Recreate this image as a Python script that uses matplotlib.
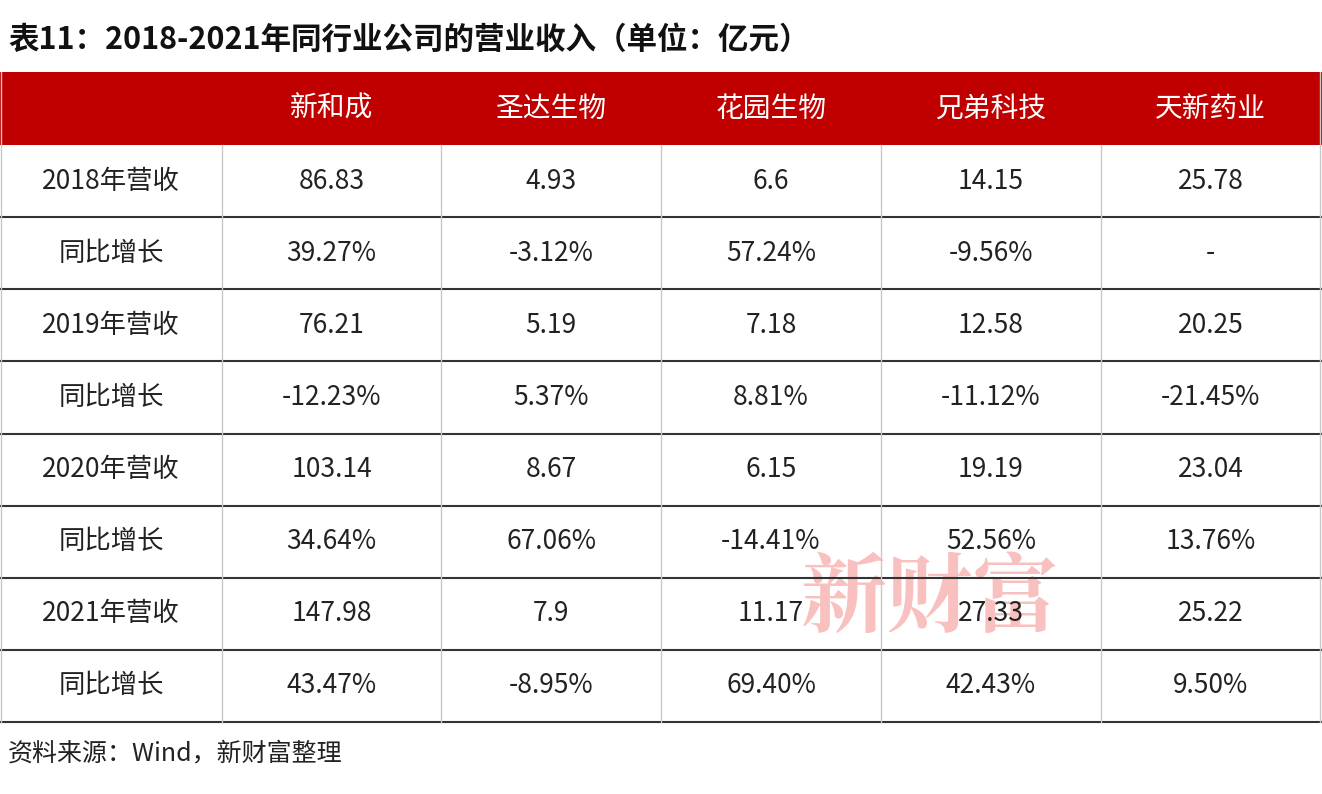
import matplotlib.pyplot as plt
from matplotlib.patches import Rectangle

plt.rcParams['font.family'] = ['Noto Sans CJK SC', 'DejaVu Sans']

title = '表11：2018-2021年同行业公司的营业收入（单位：亿元）'
companies = ['新和成', '圣达生物', '花园生物', '兄弟科技', '天新药业']
row_labels = ['2018年营收', '同比增长', '2019年营收', '同比增长',
              '2020年营收', '同比增长', '2021年营收', '同比增长']
cells = [
    ['86.83', '4.93', '6.6', '14.15', '25.78'],
    ['39.27%', '-3.12%', '57.24%', '-9.56%', '-'],
    ['76.21', '5.19', '7.18', '12.58', '20.25'],
    ['-12.23%', '5.37%', '8.81%', '-11.12%', '-21.45%'],
    ['103.14', '8.67', '6.15', '19.19', '23.04'],
    ['34.64%', '67.06%', '-14.41%', '52.56%', '13.76%'],
    ['147.98', '7.9', '11.17', '27.33', '25.22'],
    ['43.47%', '-8.95%', '69.40%', '42.43%', '9.50%'],
]
source = '资料来源：Wind，新财富整理'

W, H = 1322, 794
fig = plt.figure(figsize=(W / 100, H / 100), dpi=100)
ax = fig.add_axes([0, 0, 1, 1])
ax.set_xlim(0, W)
ax.set_ylim(H, 0)
ax.axis('off')

col_x = [0, 222, 441, 661, 881, 1101, 1320]
head_top, head_bot = 72, 145
row_h = (722 - head_bot) / len(row_labels)

ax.text(8, 40, title, fontsize=22, fontweight='bold', va='center', ha='left', color='#111111')

# header band
ax.add_patch(Rectangle((0, head_top), W, head_bot - head_top, color='#c00000', lw=0))
for i, name in enumerate(companies):
    cx = (col_x[i + 1] + col_x[i + 2]) / 2
    ax.text(cx, (head_top + head_bot) / 2, name, fontsize=20, color='white', ha='center', va='center')

# watermark (behind the cell text, as in the source image)
ax.text(930, 600, '新财富', fontsize=62, color='#e8302a', alpha=0.3,
        ha='center', va='center', fontweight='bold', family=['Noto Serif CJK SC', 'Noto Sans CJK SC'],
        zorder=0)

# body
for r, lab in enumerate(row_labels):
    y0 = head_bot + r * row_h
    cy = y0 + row_h / 2
    ax.text((col_x[0] + col_x[1]) / 2, cy, lab, fontsize=19, color='#222222', ha='center', va='center')
    for c, val in enumerate(cells[r]):
        cx = (col_x[c + 1] + col_x[c + 2]) / 2
        ax.text(cx, cy, val, fontsize=19, color='#222222', ha='center', va='center')
    ax.plot([0, W], [y0 + row_h, y0 + row_h], color='#333333', lw=1.5)

for x in col_x[1:-1]:
    ax.plot([x, x], [head_bot, 722], color='#c8c8c8', lw=1)
ax.plot([1, 1], [head_top, 722], color='#c8c8c8', lw=1)
ax.plot([W - 2, W - 2], [head_top, 722], color='#c8c8c8', lw=1)

ax.text(8, 753, source, fontsize=18, color='#222222', ha='left', va='center')

fig.savefig('out.png', dpi=100)
